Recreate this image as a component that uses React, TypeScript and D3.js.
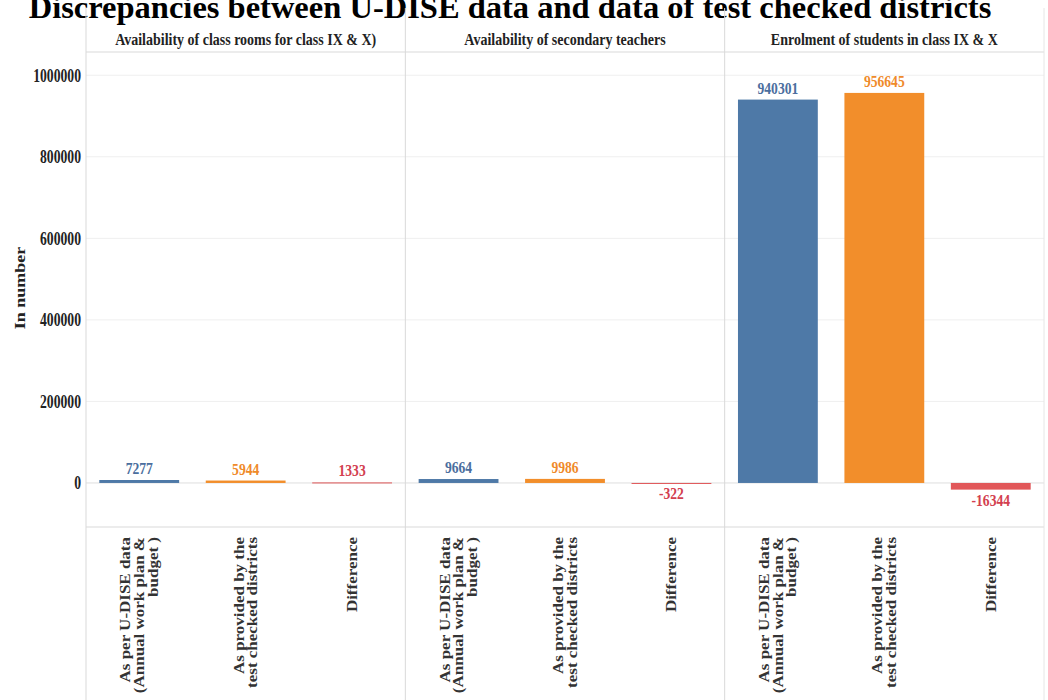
import React from "react";
import * as d3 from "d3";

const titleText = "Discrepancies between U-DISE data and data of test checked districts";
const panels = [
  "Availability of class rooms for class IX & X)",
  "Availability of secondary teachers",
  "Enrolment of students in class IX & X",
];
const categories = ["udise", "district", "difference"];
const categoryLines = [
  ["As per U-DISE data", "(Annual work plan &", "budget )"],
  ["As provided by the", "test checked districts"],
  ["Difference"],
];
const udiseValues = [7277, 9664, 940301];
const districtValues = [5944, 9986, 956645];
const differenceValues = [1333, -322, -16344];
const yTicks = [0, 200000, 400000, 600000, 800000, 1000000];
const yTitle = "In number";

const barColors = ["#4e79a7", "#f28e2b", "#e15759"];
const labelColors = ["#4b6e9e", "#ef8a2a", "#d3404f"];

const W = 1048;
const H = 700;
const left = 86;
const right = 1044;
const headerTop = 8;
const plotTop = 52;
const plotBottom = 527;
const SX = 0.8;
const FONT = "'Liberation Serif', 'Times New Roman', serif";

export default function App() {
  const y = d3.scaleLinear().domain([-108000, 1057000]).range([plotBottom, plotTop]);
  const px = d3.scaleBand<string>().domain(panels).range([left, right]);
  const bx = d3
    .scaleBand<string>()
    .domain(categories)
    .range([0, px.bandwidth()])
    .paddingInner(0.25)
    .paddingOuter(0.125);
  const seriesValues = [udiseValues, districtValues, differenceValues];

  return (
    <svg
      width={W}
      height={H}
      style={{ position: "absolute", left: 0, top: 0, background: "#fff" }}
      fontFamily={FONT}
    >
      <rect x={0} y={0} width={W} height={H} fill="#fff" />
      {/* title */}
      <text
        x={510}
        y={18}
        textAnchor="middle"
        fontSize={32.5}
        fontWeight="bold"
        fill="#000"
      >
        {titleText}
      </text>

      {/* gridlines */}
      {yTicks.map((t) => (
        <line
          key={"g" + t}
          x1={left}
          x2={right}
          y1={y(t)}
          y2={y(t)}
          stroke={t === 0 ? "#dedede" : "#efefef"}
          strokeWidth={1}
        />
      ))}

      {/* frame lines */}
      <line x1={left} x2={right} y1={plotTop} y2={plotTop} stroke="#d9d9d9" />
      <line x1={left} x2={right} y1={plotBottom} y2={plotBottom} stroke="#d9d9d9" />
      {panels.map((p, i) => (
        <line
          key={"v" + i}
          x1={px(p)!}
          x2={px(p)!}
          y1={headerTop}
          y2={H}
          stroke="#d9d9d9"
        />
      ))}
      <line x1={right} x2={right} y1={headerTop} y2={H} stroke="#e6e6e6" />

      {/* y axis */}
      {yTicks.map((t) => (
        <text
          key={"t" + t}
          transform={`translate(81,${y(t)}) scale(0.76,1)`}
          textAnchor="end"
          dy="0.35em"
          fontSize={18}
          fontWeight="bold"
          fill="#222"
        >
          {t}
        </text>
      ))}
      <text
        transform={`translate(20,288) scale(${SX},1) rotate(-90)`}
        textAnchor="middle"
        dy="0.35em"
        fontSize={18}
        fontWeight="bold"
        fill="#222"
      >
        {yTitle}
      </text>

      {panels.map((p, pi) => {
        const x0 = px(p)!;
        return (
          <g key={"p" + pi}>
            <text
              transform={`translate(${x0 + px.bandwidth() / 2},45) scale(${SX},1)`}
              textAnchor="middle"
              fontSize={17.5}
              fontWeight="bold"
              fill="#222"
            >
              {p}
            </text>
            {categories.map((c, ci) => {
              const v = seriesValues[ci][pi];
              const bx0 = x0 + bx(c)!;
              const yTop = y(Math.max(0, v));
              const yBot = y(Math.min(0, v));
              const h = Math.max(yBot - yTop, 1);
              const cx = bx0 + bx.bandwidth() / 2;
              const labelY = v >= 0 ? yTop - 6 : yBot + 16;
              const lines = categoryLines[ci];
              const lh = 17;
              return (
                <g key={"b" + ci}>
                  <rect
                    x={bx0}
                    y={yTop}
                    width={bx.bandwidth()}
                    height={h}
                    fill={barColors[ci]}
                  />
                  <text
                    transform={`translate(${cx},${labelY}) scale(${SX},1)`}
                    textAnchor="middle"
                    fontSize={17}
                    fontWeight="bold"
                    fill={labelColors[ci]}
                  >
                    {v}
                  </text>
                  <text
                    transform={`translate(${cx},537) scale(${SX},1) rotate(-90)`}
                    textAnchor="end"
                    fontSize={17}
                    fontWeight="bold"
                    fill="#333"
                  >
                    {lines.map((ln, li) => (
                      <tspan
                        key={li}
                        x={0}
                        y={(li - (lines.length - 1) / 2) * lh}
                        dy="0.35em"
                      >
                        {ln}
                      </tspan>
                    ))}
                  </text>
                </g>
              );
            })}
          </g>
        );
      })}
    </svg>
  );
}
